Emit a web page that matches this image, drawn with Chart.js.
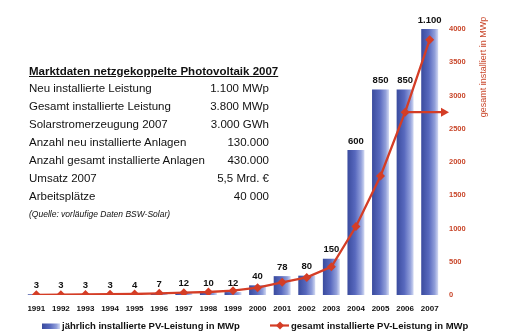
<!DOCTYPE html>
<html>
<head>
<meta charset="utf-8">
<script src="https://cdn.jsdelivr.net/npm/chart.js@4"></script>
<style>
  body { margin: 0; background: #fff; }
  #wrap { position: relative; width: 506px; height: 335px; }
  #pvchart { position: absolute; left: 0; top: 0; }
  #facts {
    position: absolute; left: 29px; top: 61.7px; width: 240px;
    font-family: "Liberation Sans", Arial, sans-serif; font-size: 11.5px; color: #111;
  }
  #facts .head { font-weight: bold; text-decoration: underline; white-space: nowrap; height: 18.6px; line-height: 18.6px; }
  #facts .row { display: flex; justify-content: space-between; height: 17.9px; line-height: 17.9px; white-space: nowrap; }
  #facts .src { font-style: italic; font-size: 8.5px; height: 17px; line-height: 17px; }
</style>
</head>
<body>
<div id="wrap">
  <canvas id="pvchart" width="506" height="335"></canvas>
  <div id="facts"></div>
</div>
<script>
const years = ["1991", "1992", "1993", "1994", "1995", "1996", "1997", "1998", "1999",
  "2000", "2001", "2002", "2003", "2004", "2005", "2006", "2007"];
// jährlich installiert (MWp), bars
const annualMWp = [3, 3, 3, 3, 4, 7, 12, 10, 12, 40, 78, 80, 150, 600, 850, 850, 1100];
// gesamt installiert (MWp), line
const totalMWp = [2, 5, 8, 11, 15, 25, 35, 45, 65, 110, 190, 265, 425, 1030, 1790, 2750, 3840];

const tableTitle = "Marktdaten netzgekoppelte Photovoltaik 2007";
const tableLabels = [
  "Neu installierte Leistung",
  "Gesamt installierte Leistung",
  "Solarstromerzeugung 2007",
  "Anzahl neu installierte Anlagen",
  "Anzahl gesamt installierte Anlagen",
  "Umsatz 2007",
  "Arbeitsplätze",
];
const tableValues = ["1.100 MWp", "3.800 MWp", "3.000 GWh", "130.000", "430.000", "5,5 Mrd. €", "40 000"];
const tableSource = "(Quelle: vorläufige Daten BSW-Solar)";

// fact box
const facts = document.getElementById("facts");
let html = '<div class="head">' + tableTitle + "</div>";
tableLabels.forEach((l, i) => {
  html += '<div class="row"><span>' + l + "</span><span>" + tableValues[i] + "</span></div>";
});
html += '<div class="src">' + tableSource + "</div>";
facts.innerHTML = html;

const red = "#d43d26";
const axisRed = "#c9472b";
const font = "'Liberation Sans', Arial, sans-serif";

function fmt(v) {
  return v >= 1000 ? Math.floor(v / 1000) + "." + String(v % 1000).padStart(3, "0") : String(v);
}

function barGradient(ctx, x0, x1) {
  const g = ctx.createLinearGradient(x0, 0, x1, 0);
  g.addColorStop(0, "#3a4b9e");
  g.addColorStop(0.45, "#5869be");
  g.addColorStop(0.8, "#919fda");
  g.addColorStop(1, "#d3daf3");
  return g;
}

const BAR_FRAC = 0.69;

const extras = {
  id: "extras",
  afterDatasetsDraw(chart) {
    const c = chart.ctx;
    const area = chart.chartArea;
    // value labels above bars
    const bars = chart.getDatasetMeta(0).data;
    c.save();
    c.font = "bold 9.5px " + font;
    c.fillStyle = "#111";
    c.textAlign = "center";
    c.textBaseline = "middle";
    bars.forEach((b, i) => {
      c.fillText(fmt(annualMWp[i]), b.x, b.y - 9);
    });
    // arrow from 2006 point to the right axis
    const pts = chart.getDatasetMeta(1).data;
    const p = pts[15];
    const xEnd = area.right + 7;
    c.strokeStyle = red;
    c.fillStyle = red;
    c.lineWidth = 2.2;
    c.beginPath();
    c.moveTo(p.x, p.y);
    c.lineTo(xEnd - 6, p.y);
    c.stroke();
    c.beginPath();
    c.moveTo(xEnd, p.y);
    c.lineTo(xEnd - 8, p.y - 4.5);
    c.lineTo(xEnd - 8, p.y + 4.5);
    c.closePath();
    c.fill();
    c.restore();
  },
  afterDraw(chart) {
    const c = chart.ctx;
    c.save();
    // right axis title, reading bottom to top
    c.translate(484, 67);
    c.rotate(-Math.PI / 2);
    c.font = "9px " + font;
    c.fillStyle = axisRed;
    c.textAlign = "center";
    c.textBaseline = "middle";
    c.fillText("gesamt installiert in MWp", 0, 0);
    c.restore();

    // legend
    const ly = 326;
    c.save();
    c.font = "bold 9.5px " + font;
    c.textBaseline = "middle";
    c.fillStyle = barGradient(c, 42, 60);
    c.fillRect(42, ly - 2.5, 18, 5.5);
    c.fillStyle = "#111";
    c.fillText(chart.data.datasets[0].label, 62, ly);
    c.strokeStyle = red;
    c.lineWidth = 2.2;
    c.beginPath();
    c.moveTo(270, ly - 0.5);
    c.lineTo(289, ly - 0.5);
    c.stroke();
    c.fillStyle = red;
    c.beginPath();
    c.moveTo(280, ly - 4.5);
    c.lineTo(284, ly - 0.5);
    c.lineTo(280, ly + 3.5);
    c.lineTo(276, ly - 0.5);
    c.closePath();
    c.fill();
    c.fillStyle = "#111";
    c.fillText(chart.data.datasets[1].label, 291, ly);
    c.restore();
  },
};

new Chart(document.getElementById("pvchart"), {
  type: "bar",
  data: {
    labels: years,
    datasets: [
      {
        label: "jährlich installierte PV-Leistung in MWp",
        data: annualMWp,
        yAxisID: "y",
        order: 2,
        categoryPercentage: 1,
        barPercentage: BAR_FRAC,
        backgroundColor: (ctx) => {
          const chart = ctx.chart;
          if (!chart.chartArea || ctx.type !== "data") return "#5467bd";
          const xs = chart.scales.x;
          const cx = xs.getPixelForValue(ctx.dataIndex);
          const half = (chart.chartArea.width / years.length) * BAR_FRAC / 2;
          return barGradient(chart.ctx, cx - half, cx + half);
        },
        borderWidth: 0,
      },
      {
        type: "line",
        label: "gesamt installierte PV-Leistung in MWp",
        data: totalMWp,
        yAxisID: "y1",
        order: 1,
        borderColor: red,
        borderWidth: 2.3,
        tension: 0,
        pointStyle: "rectRot",
        pointRadius: 4.5,
        pointBackgroundColor: red,
        pointBorderWidth: 0,
      },
    ],
  },
  options: {
    responsive: false,
    animation: false,
    devicePixelRatio: 1,
    layout: { padding: { top: 29, left: 24, right: 0, bottom: 0 } },
    plugins: {
      legend: { display: false },
      tooltip: { enabled: false },
    },
    scales: {
      x: {
        grid: { display: false, drawTicks: false },
        border: { display: false },
        ticks: {
          color: "#111",
          font: { family: font, size: 8, weight: "bold" },
          padding: 9,
          maxRotation: 0,
          autoSkip: false,
        },
        afterFit: (s) => { s.height = 40; },
      },
      y: {
        display: false,
        min: 0,
        max: 1100,
      },
      y1: {
        position: "right",
        min: 0,
        max: 4000,
        grid: { display: false, drawTicks: false },
        border: { display: false },
        ticks: {
          stepSize: 500,
          color: axisRed,
          font: { family: font, size: 7.5, weight: "bold" },
          padding: 7,
          callback: (v) => String(v),
        },
        afterFit: (s) => { s.width = 64; },
      },
    },
  },
  plugins: [extras],
});
</script>
</body>
</html>
